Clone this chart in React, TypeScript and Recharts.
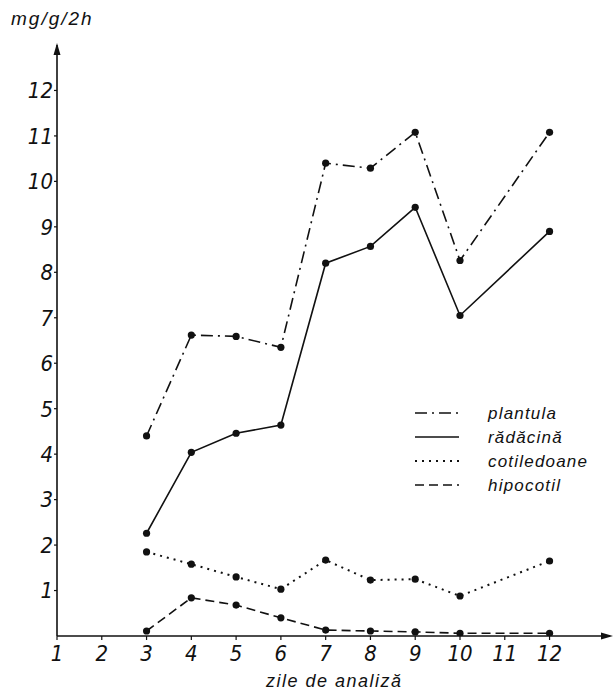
import React from 'react';
import { LineChart, Line, XAxis, YAxis, ReferenceDot } from 'recharts';

const days = [3, 4, 5, 6, 7, 8, 9, 10, 12];
const plantula = [4.4, 6.62, 6.59, 6.35, 10.4, 10.29, 11.08, 8.26, 11.08];
const radacina = [2.26, 4.04, 4.46, 4.64, 8.2, 8.57, 9.43, 7.05, 8.9];
const cotiledoane = [1.85, 1.58, 1.3, 1.03, 1.67, 1.23, 1.25, 0.88, 1.65];
const hipocotil = [0.11, 0.84, 0.68, 0.4, 0.13, 0.11, 0.09, 0.06, 0.06];

const xTicks = [1, 2, 3, 4, 5, 6, 7, 8, 9, 10, 11, 12];
const yTicks = [1, 2, 3, 4, 5, 6, 7, 8, 9, 10, 11, 12];

const seriesNames = ['plantula', 'rădăcină', 'cotiledoane', 'hipocotil'];
const seriesKeys = ['plantula', 'radacina', 'cotiledoane', 'hipocotil'];
const seriesDash = ['12 5 2 5', '', '2 5', '9 5'];

const data = days.map((d, i) => ({
  day: d,
  plantula: plantula[i],
  radacina: radacina[i],
  cotiledoane: cotiledoane[i],
  hipocotil: hipocotil[i],
}));

const INK = '#111';
const FONT = '"Liberation Sans Narrow", "DejaVu Sans Condensed", "Liberation Sans", sans-serif';
const FONT2 = '"Liberation Sans", "DejaVu Sans", sans-serif';

const tickStyle = { fontFamily: FONT, fontStyle: 'italic', fontSize: 22, fill: INK };

const LegendBox = () => (
  <svg width={205} height={110} style={{ position: 'absolute', left: 405, top: 399 }}>
    {seriesNames.map((n, i) => (
      <g key={n}>
        <line
          x1={10}
          x2={54}
          y1={14 + i * 24}
          y2={14 + i * 24}
          stroke={INK}
          strokeWidth={i === 2 ? 2 : 1.6}
          strokeDasharray={seriesDash[i] || undefined}
        />
        <text
          x={83}
          y={14 + i * 24}
          dy="0.35em"
          fontFamily={FONT2}
          fontStyle="italic"
          fontSize={17}
          letterSpacing={1.2}
          fill={INK}
        >
          {n}
        </text>
      </g>
    ))}
  </svg>
);

const ArrowUp = (props: any) => {
  const { cx, cy } = props;
  return <polygon points={`${cx},${cy - 2} ${cx - 3.5},${cy + 10} ${cx + 3.5},${cy + 10}`} fill={INK} />;
};
const ArrowRight = (props: any) => {
  const { cx, cy } = props;
  return <polygon points={`${cx + 3},${cy} ${cx - 9},${cy - 3.5} ${cx - 9},${cy + 3.5}`} fill={INK} />;
};

export default function App() {
  return (
    <div style={{ position: 'absolute', left: 0, top: 0, width: 614, height: 695, background: '#fff' }}>
      <LineChart width={614} height={695} data={data} margin={{ top: 45, right: 4, bottom: 0, left: 0 }}>
        <XAxis
          dataKey="day"
          type="number"
          domain={[1, 13.35]}
          ticks={xTicks}
          allowDataOverflow
          height={59}
          tick={tickStyle}
          tickSize={4}
          tickMargin={5}
          axisLine={{ stroke: INK, strokeWidth: 1.6 }}
          tickLine={{ stroke: INK, strokeWidth: 1.2 }}
        />
        <YAxis
          type="number"
          domain={[0, 13]}
          ticks={yTicks}
          allowDataOverflow
          width={57}
          tick={tickStyle}
          tickSize={3}
          tickMargin={1}
          axisLine={{ stroke: INK, strokeWidth: 1.6 }}
          tickLine={{ stroke: INK, strokeWidth: 1.2 }}
        />
        <ReferenceDot x={1} y={13} r={0} shape={ArrowUp} ifOverflow="visible" />
        <ReferenceDot x={13.35} y={0} r={0} shape={ArrowRight} ifOverflow="visible" />
        {seriesKeys.map((k, i) => (
          <Line
            key={k}
            dataKey={k}
            name={seriesNames[i]}
            stroke={INK}
            strokeWidth={i === 2 ? 2 : 1.6}
            strokeDasharray={seriesDash[i] || undefined}
            dot={{ r: 3.6, fill: INK, stroke: INK, strokeWidth: 0 }}
            isAnimationActive={false}
          />
        ))}
      </LineChart>
      <LegendBox />
      <div
        style={{
          position: 'absolute',
          left: 11,
          top: 8,
          fontFamily: FONT2,
          fontStyle: 'italic',
          fontSize: 19,
          letterSpacing: 2,
          color: INK,
        }}
      >
        mg/g/2h
      </div>
      <div
        style={{
          position: 'absolute',
          left: 266,
          top: 671,
          fontFamily: FONT2,
          fontStyle: 'italic',
          fontSize: 18,
          letterSpacing: 1.5,
          color: INK,
        }}
      >
        zile de analiză
      </div>
    </div>
  );
}
